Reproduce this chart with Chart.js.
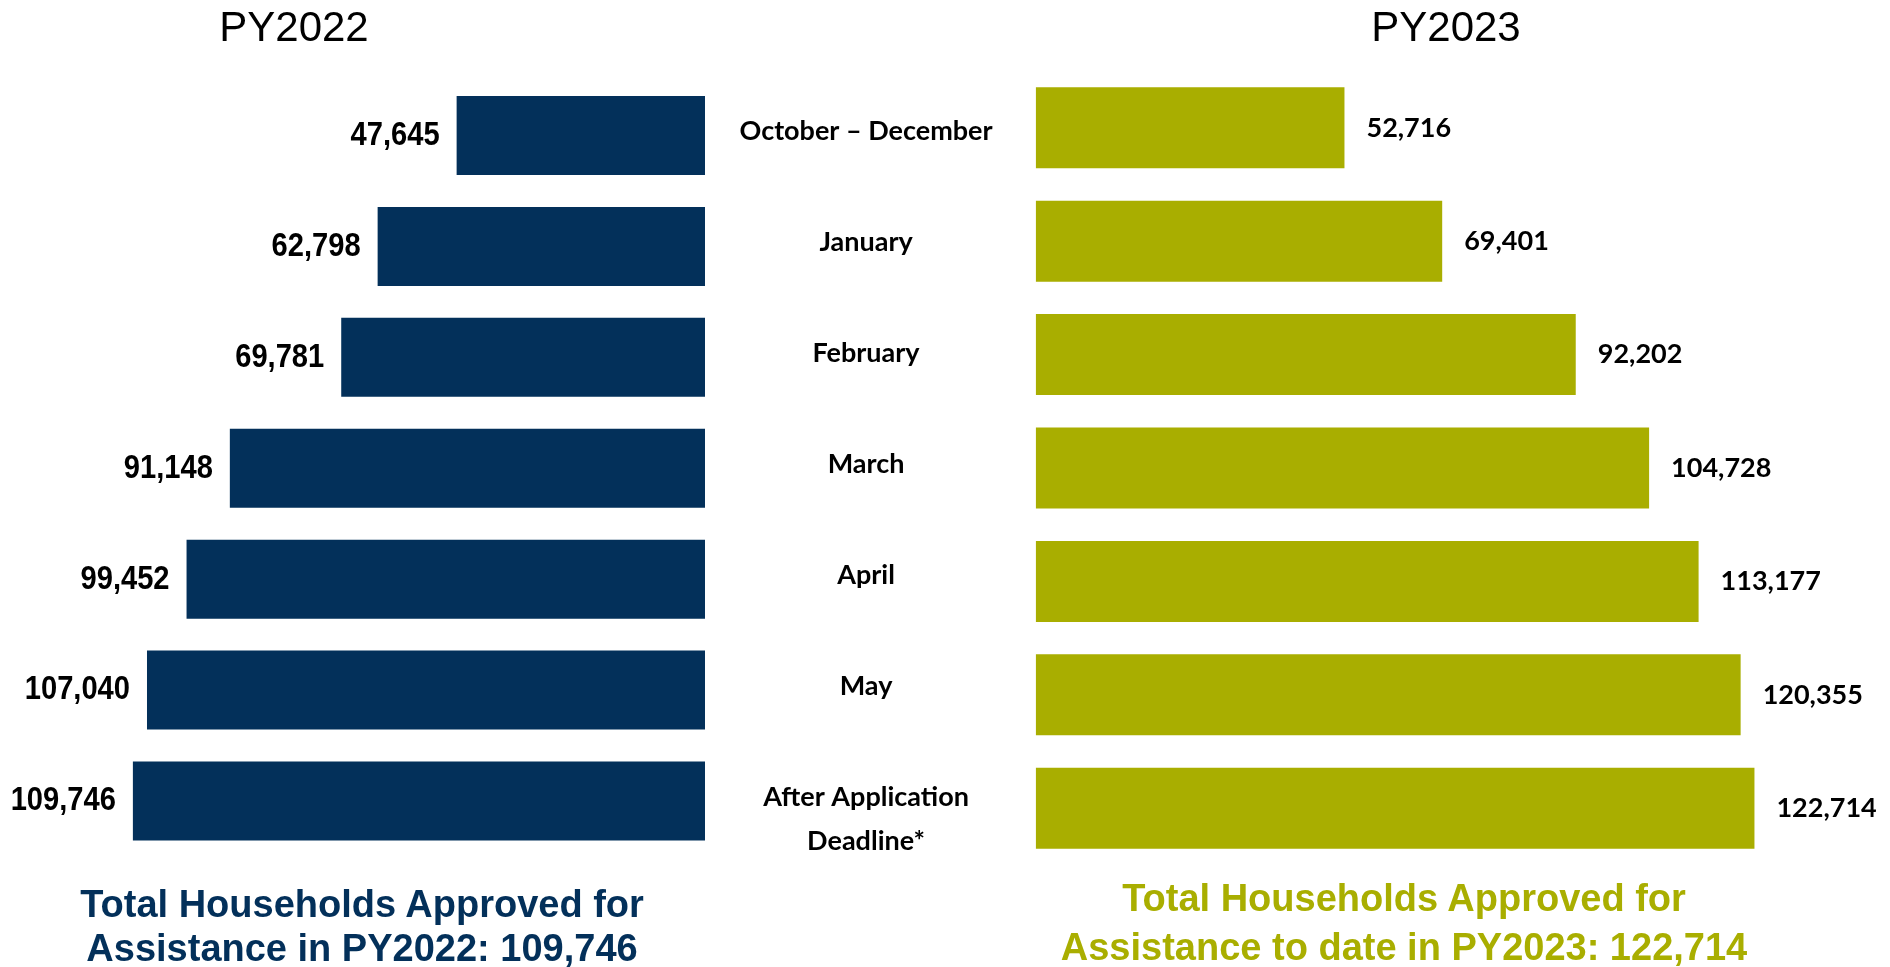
<!DOCTYPE html>
<html>
<head>
<meta charset="utf-8">
<script src="https://cdn.jsdelivr.net/npm/chart.js@4.4.1/dist/chart.umd.min.js"></script>
<style>
  html, body { margin: 0; padding: 0; background: #ffffff; }
  body { width: 1890px; height: 967px; position: relative; overflow: hidden; }
  canvas { position: absolute; top: 0; }
  .t { position: absolute; white-space: nowrap; text-align: center; transform: translateX(-50%); }
  .head { font-family: "Liberation Sans", Arial, sans-serif; font-size: 42px; line-height: 42px; color: #000; }
  .foot { font-family: "Liberation Sans", Arial, sans-serif; font-weight: bold; font-size: 38px; line-height: 38px; }
</style>
</head>
<body>
<canvas id="left" width="1040" height="967" style="left:0px"></canvas>
<canvas id="right" width="890" height="967" style="left:1000px"></canvas>

<div class="t head" style="left:294px; top:6px">PY2022</div>
<div class="t head" style="left:1446px; top:6px">PY2023</div>
<div class="t foot" style="left:362px; top:885px; color:#03305a">Total Households Approved for</div>
<div class="t foot" style="left:362px; top:929px; color:#03305a">Assistance in PY2022: 109,746</div>
<div class="t foot" style="left:1404px; top:879px; color:#a9ae00">Total Households Approved for</div>
<div class="t foot" style="left:1404px; top:928px; color:#a9ae00">Assistance to date in PY2023: 122,714</div>

<script>
// ---- data ----
const categories = [
  'October – December',
  'January',
  'February',
  'March',
  'April',
  'May',
  ['After Application', 'Deadline*']
];
const py2022 = [47645, 62798, 69781, 91148, 99452, 107040, 109746];
const py2023 = [52716, 69401, 92202, 104728, 113177, 120355, 122714];

const NAVY = '#03305a';
const OLIVE = '#a9ae00';

const fmt = v => v.toLocaleString('en-US');

function valueLabels(side, font, gap, sx) {
  return {
    id: 'valueLabels_' + side,
    afterDatasetsDraw(chart) {
      const ctx = chart.ctx;
      const meta = chart.getDatasetMeta(0);
      const data = chart.data.datasets[0].data;
      meta.data.forEach((bar, i) => {
        const x = side === 'left' ? bar.x - gap : bar.x + gap;
        ctx.save();
        ctx.font = font;
        ctx.fillStyle = '#000';
        ctx.textBaseline = 'middle';
        ctx.textAlign = side === 'left' ? 'right' : 'left';
        ctx.translate(x, bar.y);
        ctx.scale(sx, 1);
        ctx.fillText(fmt(data[i]), 0, 0);
        ctx.restore();
      });
    }
  };
}

Chart.defaults.animation = false;

new Chart(document.getElementById('left'), {
  type: 'bar',
  data: {
    labels: categories,
    datasets: [{
      data: py2022,
      backgroundColor: NAVY,
      borderWidth: 0,
      barPercentage: 0.712,
      categoryPercentage: 1.0
    }]
  },
  options: {
    indexAxis: 'y',
    responsive: false,
    devicePixelRatio: 1,
    layout: { padding: { left: 27.3, right: 0, top: 80, bottom: 110.5 } },
    plugins: { legend: { display: false }, tooltip: { enabled: false } },
    scales: {
      x: { type: 'linear', reverse: true, min: 0, max: 130000, display: false },
      y: {
        position: 'right',
        grid: { display: false, drawTicks: false },
        border: { display: false },
        afterFit(scale) {
          scale.width = 335;
          scale.paddingTop = 0;
          scale.paddingBottom = 0;
        },
        ticks: {
          crossAlign: 'center',
          padding: 34.5,
          labelOffset: -4,
          color: '#000',
          autoSkip: false,
          font: { family: 'Lato', weight: 'bold', size: 27, lineHeight: '44px' },
          callback(value, index) {
            const l = categories[index];
            return Array.isArray(l) ? [''].concat(l) : l;
          }
        }
      }
    }
  },
  plugins: [valueLabels('left', 'bold 34px "Liberation Sans", Arial, sans-serif', 17, 0.856)]
});

new Chart(document.getElementById('right'), {
  type: 'bar',
  data: {
    labels: categories,
    datasets: [{
      data: py2023,
      backgroundColor: OLIVE,
      borderWidth: 0,
      barPercentage: 0.714,
      categoryPercentage: 1.0
    }]
  },
  options: {
    indexAxis: 'y',
    responsive: false,
    devicePixelRatio: 1,
    layout: { padding: { left: 35.7, right: 34.3, top: 71.1, bottom: 102.1 } },
    plugins: { legend: { display: false }, tooltip: { enabled: false } },
    scales: {
      x: { type: 'linear', min: 0, max: 140000, display: false },
      y: { display: false }
    }
  },
  plugins: [valueLabels('right', 'bold 27px Lato, sans-serif', 22, 1)]
});
</script>
</body>
</html>
